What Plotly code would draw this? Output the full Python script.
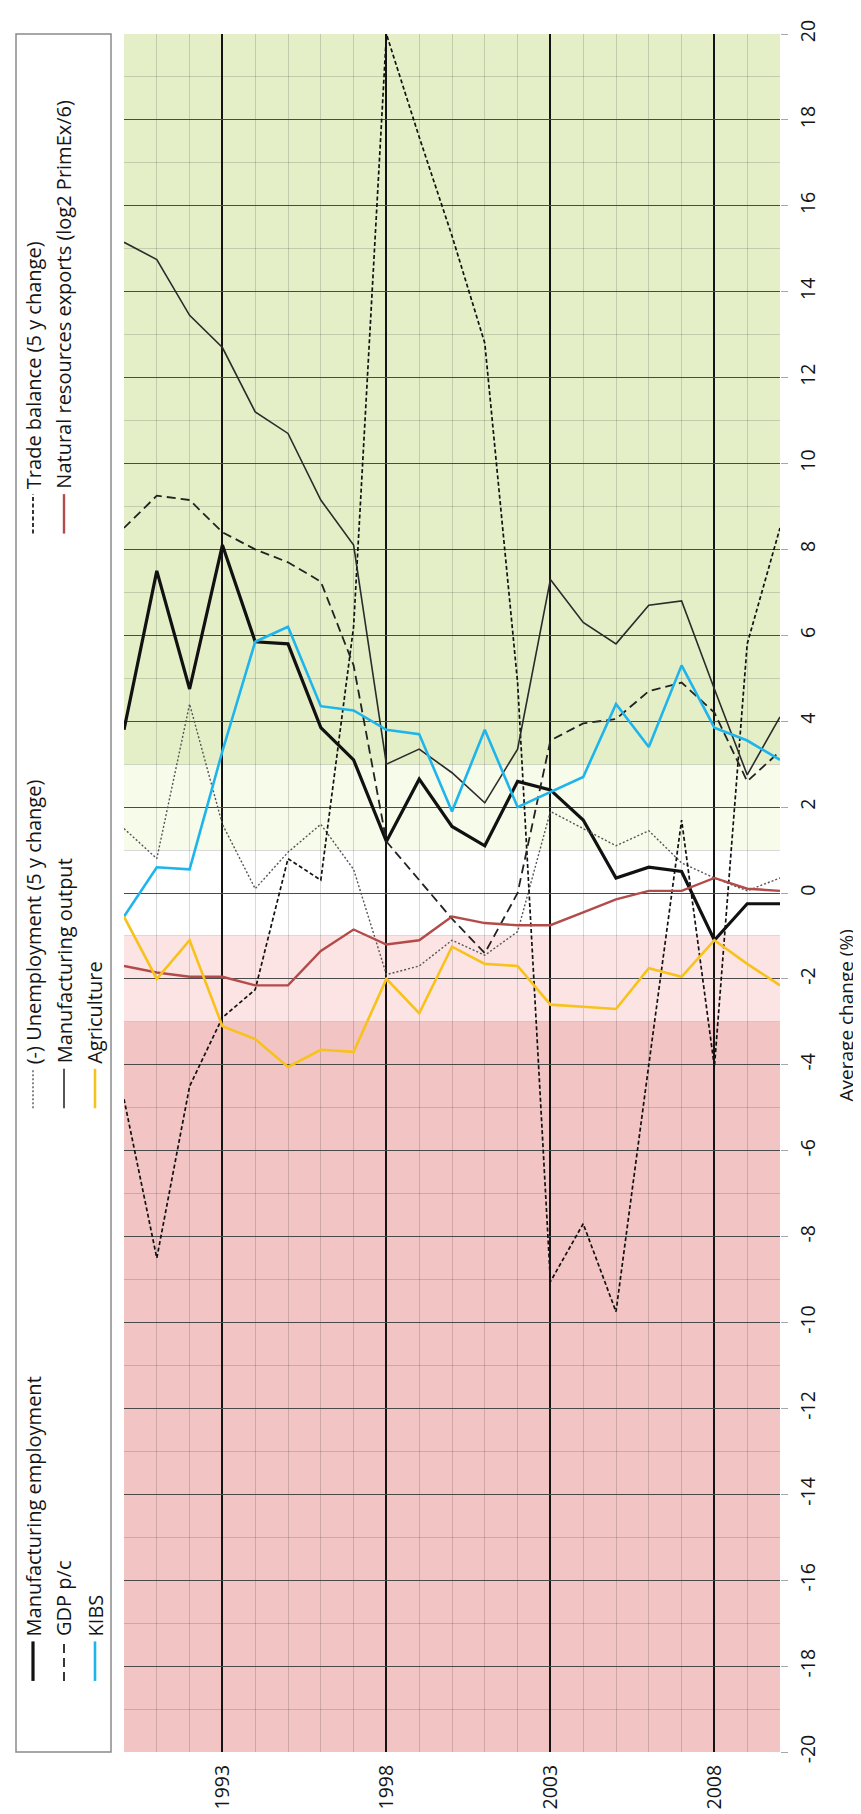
import plotly.graph_objects as go

# ---------------- data ----------------
years = list(range(1990, 2011))

mfg_employment = [3.8, 7.5, 4.75, 8.1, 5.85, 5.8, 3.85, 3.1, 1.2, 2.65, 1.55,
                  1.1, 2.6, 2.4, 1.7, 0.35, 0.6, 0.5, -1.1, -0.25, -0.25]
unemployment = [1.5, 0.8, 4.4, 1.6, 0.1, 0.95, 1.6, 0.55, -1.9, -1.7, -1.1,
                -1.45, -0.9, 1.9, 1.5, 1.1, 1.45, 0.7, 0.35, 0.05, 0.35]
trade_balance = [-4.8, -8.5, -4.5, -2.9, -2.25, 0.8, 0.3, 6.2, 20.0, 17.6, 15.3,
                 12.8, 4.9, -9.05, -7.7, -9.75, -4.0, 1.7, -4.05, 5.8, 8.5]
gdp_pc = [8.5, 9.25, 9.15, 8.4, 8.0, 7.7, 7.25, 5.3, 1.2, 0.3, -0.6,
          -1.4, 0.0, 3.55, 3.95, 4.05, 4.7, 4.9, 4.2, 2.6, 3.3]
mfg_output = [15.15, 14.75, 13.45, 12.7, 11.2, 10.7, 9.15, 8.1, 3.0, 3.35, 2.8,
              2.1, 3.35, 7.3, 6.3, 5.8, 6.7, 6.8, 4.75, 2.75, 4.1]
nat_resources = [-1.7, -1.85, -1.95, -1.95, -2.15, -2.15, -1.35, -0.85, -1.2, -1.1, -0.55,
                 -0.7, -0.75, -0.75, -0.45, -0.15, 0.05, 0.05, 0.35, 0.1, 0.05]
kibs = [-0.55, 0.6, 0.55, 3.3, 5.85, 6.2, 4.35, 4.25, 3.8, 3.7, 1.9,
        3.8, 2.0, 2.35, 2.7, 4.4, 3.4, 5.3, 3.85, 3.55, 3.1]
agriculture = [-0.55, -2.0, -1.1, -3.1, -3.4, -4.05, -3.65, -3.7, -2.0, -2.8, -1.25,
               -1.65, -1.7, -2.6, -2.65, -2.7, -1.75, -1.95, -1.1, -1.65, -2.15]

label_years = [1993, 1998, 2003, 2008]
year_labels = ["1993", "1998", "2003", "2008"]
tick_years = [1990, 1995, 2000, 2005, 2010]

value_ticks = [-20, -18, -16, -14, -12, -10, -8, -6, -4, -2, 0,
               2, 4, 6, 8, 10, 12, 14, 16, 18, 20]
value_labels = ["-20", "-18", "-16", "-14", "-12", "-10", "-8", "-6", "-4", "-2", "0",
                "2", "4", "6", "8", "10", "12", "14", "16", "18", "20"]

band_edges = [-20, -3, -1, 1, 3, 20]
band_colors = ["#f2c4c4", "#fde4e4", "#ffffff", "#f7fbe9", "#e4efc8"]

axis_title = "Average change (%)"

# series: name, values, color, width, dash, legend column, legend group
series = [
    ("Manufacturing employment", mfg_employment, "#111111", 3.2, "solid", 0, 0),
    ("(-) Unemployment (5 y change)", unemployment, "#555555", 1.4, "2px,2px", 0, 1),
    ("Trade balance (5 y change)", trade_balance, "#111111", 1.7, "4px,2.5px", 0, 2),
    ("GDP p/c", gdp_pc, "#222222", 1.8, "9px,5px", 1, 0),
    ("Manufacturing output", mfg_output, "#2b2b2b", 1.6, "solid", 1, 1),
    ("Natural resources exports (log2 PrimEx/6)", nat_resources, "#b24c4a", 2.4, "solid", 1, 2),
    ("KIBS", kibs, "#1eb4ec", 2.6, "solid", 2, 0),
    ("Agriculture", agriculture, "#f7c21b", 2.6, "solid", 2, 1),
]

# ---------------- geometry (pixels) ----------------
W, H = 861, 1814
PL, PR, PT, PB = 116, 772, 16, 1756
FONT = "Open Sans"
TXT = "#151515"


def xp(px):
    return (px - PL) / (PR - PL)


def yp(py):
    return (PB - py) / (PB - PT)


fig = go.Figure()
for name, vals, color, width, dash, col, grp in series:
    fig.add_trace(go.Scatter(x=years, y=vals, mode="lines", name=name,
                             line=dict(color=color, width=width, dash=dash),
                             showlegend=False, hoverinfo="skip"))

shapes = []
# background bands
for i, c in enumerate(band_colors):
    shapes.append(dict(type="rect", xref="paper", yref="y", x0=0, x1=1,
                       y0=band_edges[i], y1=band_edges[i + 1],
                       fillcolor=c, line=dict(width=0), layer="below"))

# legend box
shapes.append(dict(type="rect", xref="paper", yref="paper",
                   x0=xp(8), x1=xp(103), y0=yp(1756), y1=yp(16),
                   line=dict(color="#8a8a8a", width=1.5), fillcolor="white",
                   layer="above"))

col_x = [25, 56, 87]
group_bottom = [1684, 1104, 522]
sample_len = 40
annotations = []
for name, vals, color, width, dash, col, grp in series:
    x = col_x[col]
    yb = group_bottom[grp]
    shapes.append(dict(type="line", xref="paper", yref="paper",
                       x0=xp(x), x1=xp(x), y0=yp(yb), y1=yp(yb - sample_len),
                       line=dict(color=color, width=width, dash=dash), layer="above"))
    annotations.append(dict(text=name, textangle=-90, xref="paper", yref="paper",
                            x=xp(x), y=yp(yb - sample_len - 3),
                            xanchor="center", yanchor="bottom", showarrow=False,
                            font=dict(family=FONT, size=20, color=TXT)))

annotations.append(dict(text=axis_title, textangle=-90, xref="paper", yref="paper",
                        x=xp(838), y=yp(1010), xanchor="center", yanchor="middle",
                        showarrow=False, borderpad=0,
                        font=dict(family=FONT, size=19, color=TXT)))

fig.update_layout(
    width=W, height=H,
    margin=dict(l=PL, r=W - PR, t=PT, b=H - PB, pad=0),
    paper_bgcolor="white", plot_bgcolor="white",
    showlegend=False,
    font=dict(family=FONT, size=19.5, color=TXT),
    shapes=shapes, annotations=annotations,
    xaxis=dict(range=[1990, 2010], tickmode="array", tickvals=label_years,
               ticktext=year_labels, tickangle=-90, ticks="",
               ticklabelstandoff=8,
               showgrid=True, gridcolor="#141414", gridwidth=2,
               minor=dict(tickmode="linear", tick0=1990, dtick=1, showgrid=True,
                          gridcolor="rgba(0,0,0,0.15)", gridwidth=1),
               zeroline=False, showline=False,
               tickfont=dict(family=FONT, size=19.5, color=TXT)),
    xaxis2=dict(range=[1990, 2010], overlaying="x", anchor="y", side="bottom",
                tickmode="array", tickvals=tick_years, showticklabels=False,
                ticks="outside", ticklen=7, tickcolor="#a8a8a8", tickwidth=1,
                showgrid=True, gridcolor="#3c3c3c", gridwidth=1.4,
                zeroline=False, showline=False),
    yaxis=dict(range=[-20, 20], side="right", tickmode="array",
               tickvals=value_ticks, ticktext=value_labels,
               tickangle=-90, ticks="outside", ticklen=7, tickcolor="#a8a8a8",
               ticklabelstandoff=4,
               showgrid=True, gridcolor="#4a4a4a", gridwidth=1.3,
               minor=dict(tickmode="linear", tick0=-20, dtick=1, showgrid=True,
                          gridcolor="rgba(0,0,0,0.15)", gridwidth=1),
               zeroline=False, showline=False,
               tickfont=dict(family=FONT, size=19.5, color=TXT)),
)

fig.write_html("out.html")
